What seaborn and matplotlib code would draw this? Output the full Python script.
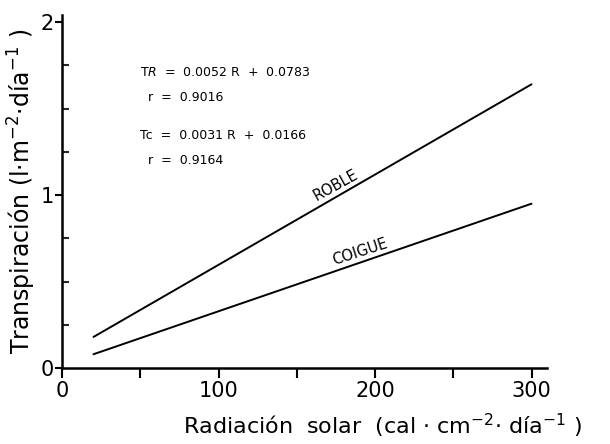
import matplotlib
matplotlib.use("Agg")
import matplotlib.pyplot as plt
import seaborn as sns
import pandas as pd
from matplotlib.ticker import MultipleLocator

# Data
radiacion = [20, 300]
roble = [0.18, 1.64]
coigue = [0.08, 0.95]
x_ticks = [0, 100, 200, 300]
y_ticks = [0, 1, 2]

sns.set_theme(style="ticks")
plt.rcParams['font.family'] = ['DejaVu Sans']
plt.rcParams['text.color'] = 'black'
plt.rcParams['axes.labelcolor'] = 'black'

df = pd.DataFrame({
    "x": radiacion * 2,
    "y": roble + coigue,
    "especie": ["ROBLE"] * 2 + ["COIGUE"] * 2,
})

fig = plt.figure(figsize=(6.10, 4.44), dpi=100)
ax = fig.add_axes([0.102, 0.171, 0.795, 0.795])
sns.lineplot(data=df, x="x", y="y", units="especie", estimator=None,
             color="black", linewidth=1.4, ax=ax, legend=False)

ax.set_xlim(0, 310)
ax.set_ylim(0, 2.04)
ax.set_xticks(x_ticks)
ax.set_yticks(y_ticks)
ax.xaxis.set_minor_locator(MultipleLocator(50))
ax.yaxis.set_minor_locator(MultipleLocator(0.25))
for s in ["top", "right"]:
    ax.spines[s].set_visible(False)
for s in ["left", "bottom"]:
    ax.spines[s].set_linewidth(1.8)
    ax.spines[s].set_color("black")

ax.tick_params(axis="x", which="both", direction="out", length=7, width=1.5,
               labelsize=15, colors="black", pad=2)
ax.tick_params(axis="y", which="major", direction="out", length=5, width=1.5,
               labelsize=15, colors="black", pad=1)
ax.tick_params(axis="y", which="minor", direction="in", length=5, width=1.5)

ax.set_xlabel("Radiación  solar  (cal · cm$^{-2}$· día$^{-1}$ )", fontsize=16,
              color="black")
ax.xaxis.set_label_coords(0.66, -0.125)
ax.set_ylabel("Transpiración (l·m$^{-2}$·día$^{-1}$ )", fontsize=17,
              color="black")
ax.yaxis.set_label_coords(-0.05, 0.50)

# series labels along lines
ax.text(177, 1.02, "ROBLE", rotation=29, rotation_mode="anchor",
        ha="center", va="bottom", fontsize=10.5, color="black")
ax.text(192, 0.63, "COIGUE", rotation=18, rotation_mode="anchor",
        ha="center", va="bottom", fontsize=10.5, color="black")

# equations
ax.text(50, 1.71, "T$\\mathit{R}$  =  0.0052 R  +  0.0783", fontsize=9, va="center", color="black")
ax.text(55, 1.565, "r  =  0.9016", fontsize=9, va="center", color="black")
ax.text(50, 1.345, "Tc  =  0.0031 R  +  0.0166", fontsize=9, va="center", color="black")
ax.text(55, 1.20, "r  =  0.9164", fontsize=9, va="center", color="black")

fig.savefig("out.png", dpi=100)
